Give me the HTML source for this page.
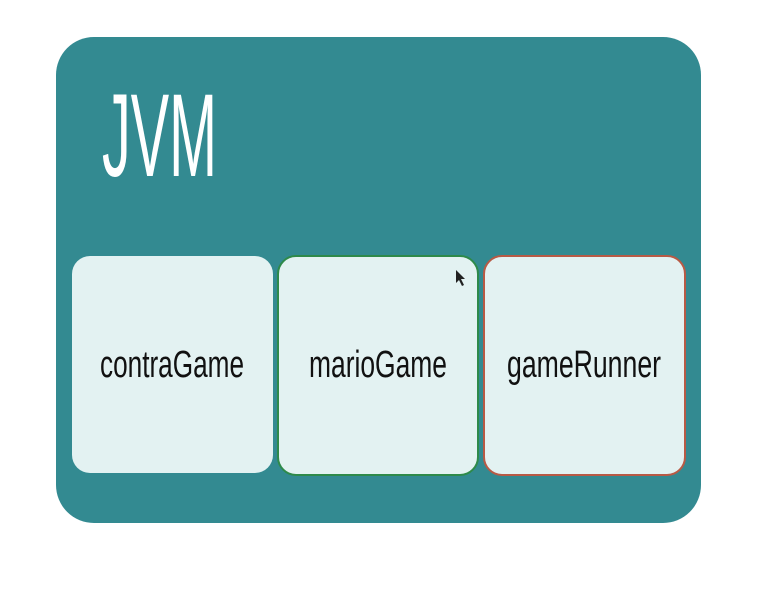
<!DOCTYPE html>
<html><head><style>
body{margin:0;width:758px;height:590px;background:#fff;overflow:hidden}
</style></head><body>
<svg width="758" height="590" xmlns="http://www.w3.org/2000/svg">
<rect x="56" y="37" width="645" height="486" rx="38" fill="#338a91"/>
<text x="102" y="176" font-family="Liberation Sans, sans-serif" font-size="118" fill="#fff" textLength="115" lengthAdjust="spacingAndGlyphs">JVM</text>
<rect x="72" y="256" width="201" height="217" rx="18" fill="#e3f2f2"/>
<rect x="278" y="256" width="200" height="219" rx="18" fill="#e3f2f2" stroke="#2e8a4a" stroke-width="2"/>
<rect x="484" y="256" width="201" height="219" rx="18" fill="#e3f2f2" stroke="#b85a45" stroke-width="2"/>
<g font-family="Liberation Sans, sans-serif" font-size="38" fill="#111">
<text x="100" y="377" textLength="144" lengthAdjust="spacingAndGlyphs">contraGame</text>
<text x="309" y="377" textLength="138" lengthAdjust="spacingAndGlyphs">marioGame</text>
<text x="507" y="377" textLength="154" lengthAdjust="spacingAndGlyphs">gameRunner</text>
</g>
<path d="M456 270 L456 283 L459 280 L462 286 L464 285 L461 279 L465 279 Z" fill="#222"/>
</svg>
</body></html>
